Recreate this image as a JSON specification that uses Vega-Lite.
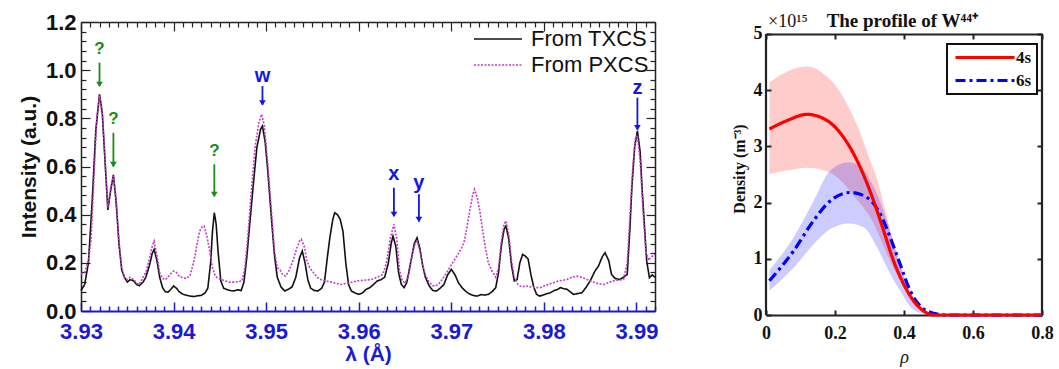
{
"$schema": "https://vega.github.io/schema/vega-lite/v6.json",
"background": "white",
"padding": {"left": 18, "top": 11, "right": 5, "bottom": 2},
"spacing": 72,
"config": {"view": {"stroke": null}, "axis": {"labelFlush": false}},
"resolve": {"scale": {"color": "independent", "strokeDash": "independent"}, "legend": {"color": "independent", "strokeDash": "independent"}},
"datasets": {
"tx": [
{"lam":3.9300,"I":0.085,"series":"From TXCS"},{"lam":3.9304,"I":0.11,"series":"From TXCS"},{"lam":3.9308,"I":0.20,"series":"From TXCS"},{"lam":3.9312,"I":0.45,"series":"From TXCS"},{"lam":3.9316,"I":0.75,"series":"From TXCS"},{"lam":3.9320,"I":0.90,"series":"From TXCS"},{"lam":3.9323,"I":0.82,"series":"From TXCS"},{"lam":3.9326,"I":0.62,"series":"From TXCS"},{"lam":3.9329,"I":0.42,"series":"From TXCS"},{"lam":3.9332,"I":0.50,"series":"From TXCS"},{"lam":3.9335,"I":0.565,"series":"From TXCS"},{"lam":3.9338,"I":0.45,"series":"From TXCS"},{"lam":3.9341,"I":0.28,"series":"From TXCS"},{"lam":3.9344,"I":0.17,"series":"From TXCS"},{"lam":3.9347,"I":0.14,"series":"From TXCS"},{"lam":3.9350,"I":0.12,"series":"From TXCS"},{"lam":3.9353,"I":0.13,"series":"From TXCS"},{"lam":3.9357,"I":0.125,"series":"From TXCS"},{"lam":3.9360,"I":0.11,"series":"From TXCS"},{"lam":3.9363,"I":0.105,"series":"From TXCS"},{"lam":3.9367,"I":0.12,"series":"From TXCS"},{"lam":3.9370,"I":0.14,"series":"From TXCS"},{"lam":3.9374,"I":0.19,"series":"From TXCS"},{"lam":3.9377,"I":0.24,"series":"From TXCS"},{"lam":3.9379,"I":0.256,"series":"From TXCS"},{"lam":3.9382,"I":0.21,"series":"From TXCS"},{"lam":3.9385,"I":0.14,"series":"From TXCS"},{"lam":3.9388,"I":0.098,"series":"From TXCS"},{"lam":3.9391,"I":0.08,"series":"From TXCS"},{"lam":3.9394,"I":0.078,"series":"From TXCS"},{"lam":3.9397,"I":0.09,"series":"From TXCS"},{"lam":3.9400,"I":0.104,"series":"From TXCS"},{"lam":3.9403,"I":0.095,"series":"From TXCS"},{"lam":3.9406,"I":0.08,"series":"From TXCS"},{"lam":3.9410,"I":0.07,"series":"From TXCS"},{"lam":3.9414,"I":0.065,"series":"From TXCS"},{"lam":3.9418,"I":0.062,"series":"From TXCS"},{"lam":3.9422,"I":0.06,"series":"From TXCS"},{"lam":3.9426,"I":0.063,"series":"From TXCS"},{"lam":3.9430,"I":0.065,"series":"From TXCS"},{"lam":3.9434,"I":0.075,"series":"From TXCS"},{"lam":3.9437,"I":0.095,"series":"From TXCS"},{"lam":3.9440,"I":0.20,"series":"From TXCS"},{"lam":3.9442,"I":0.33,"series":"From TXCS"},{"lam":3.9444,"I":0.408,"series":"From TXCS"},{"lam":3.9446,"I":0.36,"series":"From TXCS"},{"lam":3.9448,"I":0.25,"series":"From TXCS"},{"lam":3.9451,"I":0.125,"series":"From TXCS"},{"lam":3.9454,"I":0.095,"series":"From TXCS"},{"lam":3.9457,"I":0.09,"series":"From TXCS"},{"lam":3.9461,"I":0.085,"series":"From TXCS"},{"lam":3.9465,"I":0.083,"series":"From TXCS"},{"lam":3.9469,"I":0.088,"series":"From TXCS"},{"lam":3.9473,"I":0.085,"series":"From TXCS"},{"lam":3.9476,"I":0.12,"series":"From TXCS"},{"lam":3.9479,"I":0.22,"series":"From TXCS"},{"lam":3.9482,"I":0.35,"series":"From TXCS"},{"lam":3.9486,"I":0.52,"series":"From TXCS"},{"lam":3.9490,"I":0.68,"series":"From TXCS"},{"lam":3.9494,"I":0.755,"series":"From TXCS"},{"lam":3.9496,"I":0.768,"series":"From TXCS"},{"lam":3.9499,"I":0.70,"series":"From TXCS"},{"lam":3.9502,"I":0.57,"series":"From TXCS"},{"lam":3.9506,"I":0.37,"series":"From TXCS"},{"lam":3.9509,"I":0.23,"series":"From TXCS"},{"lam":3.9512,"I":0.14,"series":"From TXCS"},{"lam":3.9516,"I":0.10,"series":"From TXCS"},{"lam":3.9520,"I":0.083,"series":"From TXCS"},{"lam":3.9524,"I":0.09,"series":"From TXCS"},{"lam":3.9528,"I":0.10,"series":"From TXCS"},{"lam":3.9532,"I":0.14,"series":"From TXCS"},{"lam":3.9536,"I":0.22,"series":"From TXCS"},{"lam":3.9539,"I":0.249,"series":"From TXCS"},{"lam":3.9542,"I":0.20,"series":"From TXCS"},{"lam":3.9545,"I":0.13,"series":"From TXCS"},{"lam":3.9548,"I":0.095,"series":"From TXCS"},{"lam":3.9552,"I":0.085,"series":"From TXCS"},{"lam":3.9556,"I":0.083,"series":"From TXCS"},{"lam":3.9560,"I":0.095,"series":"From TXCS"},{"lam":3.9563,"I":0.12,"series":"From TXCS"},{"lam":3.9566,"I":0.22,"series":"From TXCS"},{"lam":3.9569,"I":0.31,"series":"From TXCS"},{"lam":3.9572,"I":0.38,"series":"From TXCS"},{"lam":3.9574,"I":0.408,"series":"From TXCS"},{"lam":3.9577,"I":0.40,"series":"From TXCS"},{"lam":3.9580,"I":0.38,"series":"From TXCS"},{"lam":3.9583,"I":0.33,"series":"From TXCS"},{"lam":3.9586,"I":0.20,"series":"From TXCS"},{"lam":3.9589,"I":0.11,"series":"From TXCS"},{"lam":3.9592,"I":0.083,"series":"From TXCS"},{"lam":3.9596,"I":0.075,"series":"From TXCS"},{"lam":3.9600,"I":0.069,"series":"From TXCS"},{"lam":3.9604,"I":0.075,"series":"From TXCS"},{"lam":3.9608,"I":0.09,"series":"From TXCS"},{"lam":3.9612,"I":0.097,"series":"From TXCS"},{"lam":3.9616,"I":0.11,"series":"From TXCS"},{"lam":3.9620,"I":0.125,"series":"From TXCS"},{"lam":3.9624,"I":0.13,"series":"From TXCS"},{"lam":3.9628,"I":0.14,"series":"From TXCS"},{"lam":3.9632,"I":0.20,"series":"From TXCS"},{"lam":3.9635,"I":0.28,"series":"From TXCS"},{"lam":3.9637,"I":0.311,"series":"From TXCS"},{"lam":3.9640,"I":0.27,"series":"From TXCS"},{"lam":3.9643,"I":0.16,"series":"From TXCS"},{"lam":3.9646,"I":0.11,"series":"From TXCS"},{"lam":3.9649,"I":0.097,"series":"From TXCS"},{"lam":3.9652,"I":0.12,"series":"From TXCS"},{"lam":3.9656,"I":0.20,"series":"From TXCS"},{"lam":3.9660,"I":0.28,"series":"From TXCS"},{"lam":3.9663,"I":0.304,"series":"From TXCS"},{"lam":3.9666,"I":0.26,"series":"From TXCS"},{"lam":3.9669,"I":0.19,"series":"From TXCS"},{"lam":3.9672,"I":0.14,"series":"From TXCS"},{"lam":3.9676,"I":0.105,"series":"From TXCS"},{"lam":3.9680,"I":0.085,"series":"From TXCS"},{"lam":3.9684,"I":0.083,"series":"From TXCS"},{"lam":3.9688,"I":0.095,"series":"From TXCS"},{"lam":3.9692,"I":0.11,"series":"From TXCS"},{"lam":3.9696,"I":0.15,"series":"From TXCS"},{"lam":3.9700,"I":0.173,"series":"From TXCS"},{"lam":3.9704,"I":0.15,"series":"From TXCS"},{"lam":3.9708,"I":0.115,"series":"From TXCS"},{"lam":3.9712,"I":0.095,"series":"From TXCS"},{"lam":3.9716,"I":0.08,"series":"From TXCS"},{"lam":3.9720,"I":0.07,"series":"From TXCS"},{"lam":3.9724,"I":0.064,"series":"From TXCS"},{"lam":3.9728,"I":0.062,"series":"From TXCS"},{"lam":3.9732,"I":0.068,"series":"From TXCS"},{"lam":3.9736,"I":0.066,"series":"From TXCS"},{"lam":3.9740,"I":0.069,"series":"From TXCS"},{"lam":3.9744,"I":0.08,"series":"From TXCS"},{"lam":3.9748,"I":0.097,"series":"From TXCS"},{"lam":3.9751,"I":0.16,"series":"From TXCS"},{"lam":3.9754,"I":0.27,"series":"From TXCS"},{"lam":3.9757,"I":0.34,"series":"From TXCS"},{"lam":3.9759,"I":0.353,"series":"From TXCS"},{"lam":3.9762,"I":0.30,"series":"From TXCS"},{"lam":3.9765,"I":0.19,"series":"From TXCS"},{"lam":3.9768,"I":0.125,"series":"From TXCS"},{"lam":3.9771,"I":0.13,"series":"From TXCS"},{"lam":3.9774,"I":0.20,"series":"From TXCS"},{"lam":3.9777,"I":0.235,"series":"From TXCS"},{"lam":3.9780,"I":0.228,"series":"From TXCS"},{"lam":3.9783,"I":0.215,"series":"From TXCS"},{"lam":3.9786,"I":0.15,"series":"From TXCS"},{"lam":3.9789,"I":0.10,"series":"From TXCS"},{"lam":3.9792,"I":0.07,"series":"From TXCS"},{"lam":3.9795,"I":0.062,"series":"From TXCS"},{"lam":3.9799,"I":0.066,"series":"From TXCS"},{"lam":3.9803,"I":0.072,"series":"From TXCS"},{"lam":3.9807,"I":0.076,"series":"From TXCS"},{"lam":3.9811,"I":0.085,"series":"From TXCS"},{"lam":3.9815,"I":0.09,"series":"From TXCS"},{"lam":3.9818,"I":0.097,"series":"From TXCS"},{"lam":3.9822,"I":0.092,"series":"From TXCS"},{"lam":3.9825,"I":0.09,"series":"From TXCS"},{"lam":3.9829,"I":0.078,"series":"From TXCS"},{"lam":3.9832,"I":0.069,"series":"From TXCS"},{"lam":3.9836,"I":0.072,"series":"From TXCS"},{"lam":3.9841,"I":0.076,"series":"From TXCS"},{"lam":3.9845,"I":0.095,"series":"From TXCS"},{"lam":3.9850,"I":0.125,"series":"From TXCS"},{"lam":3.9855,"I":0.165,"series":"From TXCS"},{"lam":3.9859,"I":0.187,"series":"From TXCS"},{"lam":3.9863,"I":0.225,"series":"From TXCS"},{"lam":3.9866,"I":0.242,"series":"From TXCS"},{"lam":3.9870,"I":0.21,"series":"From TXCS"},{"lam":3.9873,"I":0.152,"series":"From TXCS"},{"lam":3.9877,"I":0.135,"series":"From TXCS"},{"lam":3.9882,"I":0.131,"series":"From TXCS"},{"lam":3.9886,"I":0.14,"series":"From TXCS"},{"lam":3.9890,"I":0.152,"series":"From TXCS"},{"lam":3.9893,"I":0.35,"series":"From TXCS"},{"lam":3.9895,"I":0.512,"series":"From TXCS"},{"lam":3.9898,"I":0.68,"series":"From TXCS"},{"lam":3.9901,"I":0.748,"series":"From TXCS"},{"lam":3.9904,"I":0.66,"series":"From TXCS"},{"lam":3.9906,"I":0.512,"series":"From TXCS"},{"lam":3.9909,"I":0.33,"series":"From TXCS"},{"lam":3.9911,"I":0.208,"series":"From TXCS"},{"lam":3.9914,"I":0.138,"series":"From TXCS"},{"lam":3.9917,"I":0.15,"series":"From TXCS"},{"lam":3.9920,"I":0.14,"series":"From TXCS"}
],
"px": [
{"lam":3.9300,"I":0.155,"series":"From PXCS"},{"lam":3.9304,"I":0.16,"series":"From PXCS"},{"lam":3.9308,"I":0.21,"series":"From PXCS"},{"lam":3.9311,"I":0.30,"series":"From PXCS"},{"lam":3.9314,"I":0.55,"series":"From PXCS"},{"lam":3.9317,"I":0.80,"series":"From PXCS"},{"lam":3.9320,"I":0.895,"series":"From PXCS"},{"lam":3.9323,"I":0.83,"series":"From PXCS"},{"lam":3.9326,"I":0.63,"series":"From PXCS"},{"lam":3.9329,"I":0.43,"series":"From PXCS"},{"lam":3.9332,"I":0.51,"series":"From PXCS"},{"lam":3.9335,"I":0.56,"series":"From PXCS"},{"lam":3.9338,"I":0.46,"series":"From PXCS"},{"lam":3.9341,"I":0.29,"series":"From PXCS"},{"lam":3.9344,"I":0.18,"series":"From PXCS"},{"lam":3.9347,"I":0.14,"series":"From PXCS"},{"lam":3.9350,"I":0.13,"series":"From PXCS"},{"lam":3.9353,"I":0.14,"series":"From PXCS"},{"lam":3.9357,"I":0.13,"series":"From PXCS"},{"lam":3.9360,"I":0.115,"series":"From PXCS"},{"lam":3.9363,"I":0.11,"series":"From PXCS"},{"lam":3.9367,"I":0.14,"series":"From PXCS"},{"lam":3.9370,"I":0.16,"series":"From PXCS"},{"lam":3.9374,"I":0.22,"series":"From PXCS"},{"lam":3.9377,"I":0.27,"series":"From PXCS"},{"lam":3.9379,"I":0.29,"series":"From PXCS"},{"lam":3.9382,"I":0.23,"series":"From PXCS"},{"lam":3.9385,"I":0.16,"series":"From PXCS"},{"lam":3.9388,"I":0.135,"series":"From PXCS"},{"lam":3.9391,"I":0.13,"series":"From PXCS"},{"lam":3.9394,"I":0.14,"series":"From PXCS"},{"lam":3.9397,"I":0.155,"series":"From PXCS"},{"lam":3.9400,"I":0.166,"series":"From PXCS"},{"lam":3.9403,"I":0.16,"series":"From PXCS"},{"lam":3.9406,"I":0.145,"series":"From PXCS"},{"lam":3.9410,"I":0.138,"series":"From PXCS"},{"lam":3.9414,"I":0.135,"series":"From PXCS"},{"lam":3.9418,"I":0.15,"series":"From PXCS"},{"lam":3.9422,"I":0.208,"series":"From PXCS"},{"lam":3.9425,"I":0.27,"series":"From PXCS"},{"lam":3.9428,"I":0.33,"series":"From PXCS"},{"lam":3.9431,"I":0.35,"series":"From PXCS"},{"lam":3.9433,"I":0.353,"series":"From PXCS"},{"lam":3.9436,"I":0.31,"series":"From PXCS"},{"lam":3.9439,"I":0.25,"series":"From PXCS"},{"lam":3.9442,"I":0.18,"series":"From PXCS"},{"lam":3.9445,"I":0.145,"series":"From PXCS"},{"lam":3.9448,"I":0.135,"series":"From PXCS"},{"lam":3.9452,"I":0.13,"series":"From PXCS"},{"lam":3.9456,"I":0.125,"series":"From PXCS"},{"lam":3.9460,"I":0.12,"series":"From PXCS"},{"lam":3.9465,"I":0.12,"series":"From PXCS"},{"lam":3.9470,"I":0.122,"series":"From PXCS"},{"lam":3.9474,"I":0.125,"series":"From PXCS"},{"lam":3.9477,"I":0.18,"series":"From PXCS"},{"lam":3.9480,"I":0.30,"series":"From PXCS"},{"lam":3.9484,"I":0.50,"series":"From PXCS"},{"lam":3.9488,"I":0.68,"series":"From PXCS"},{"lam":3.9492,"I":0.78,"series":"From PXCS"},{"lam":3.9495,"I":0.817,"series":"From PXCS"},{"lam":3.9498,"I":0.77,"series":"From PXCS"},{"lam":3.9502,"I":0.60,"series":"From PXCS"},{"lam":3.9506,"I":0.40,"series":"From PXCS"},{"lam":3.9509,"I":0.25,"series":"From PXCS"},{"lam":3.9512,"I":0.18,"series":"From PXCS"},{"lam":3.9515,"I":0.17,"series":"From PXCS"},{"lam":3.9518,"I":0.15,"series":"From PXCS"},{"lam":3.9521,"I":0.145,"series":"From PXCS"},{"lam":3.9525,"I":0.17,"series":"From PXCS"},{"lam":3.9529,"I":0.21,"series":"From PXCS"},{"lam":3.9533,"I":0.26,"series":"From PXCS"},{"lam":3.9536,"I":0.29,"series":"From PXCS"},{"lam":3.9538,"I":0.298,"series":"From PXCS"},{"lam":3.9541,"I":0.27,"series":"From PXCS"},{"lam":3.9544,"I":0.21,"series":"From PXCS"},{"lam":3.9547,"I":0.18,"series":"From PXCS"},{"lam":3.9551,"I":0.16,"series":"From PXCS"},{"lam":3.9555,"I":0.14,"series":"From PXCS"},{"lam":3.9560,"I":0.128,"series":"From PXCS"},{"lam":3.9565,"I":0.125,"series":"From PXCS"},{"lam":3.9570,"I":0.12,"series":"From PXCS"},{"lam":3.9575,"I":0.115,"series":"From PXCS"},{"lam":3.9581,"I":0.11,"series":"From PXCS"},{"lam":3.9587,"I":0.115,"series":"From PXCS"},{"lam":3.9593,"I":0.12,"series":"From PXCS"},{"lam":3.9599,"I":0.125,"series":"From PXCS"},{"lam":3.9606,"I":0.128,"series":"From PXCS"},{"lam":3.9614,"I":0.131,"series":"From PXCS"},{"lam":3.9620,"I":0.14,"series":"From PXCS"},{"lam":3.9626,"I":0.152,"series":"From PXCS"},{"lam":3.9630,"I":0.20,"series":"From PXCS"},{"lam":3.9634,"I":0.30,"series":"From PXCS"},{"lam":3.9638,"I":0.36,"series":"From PXCS"},{"lam":3.9641,"I":0.30,"series":"From PXCS"},{"lam":3.9644,"I":0.17,"series":"From PXCS"},{"lam":3.9647,"I":0.125,"series":"From PXCS"},{"lam":3.9650,"I":0.115,"series":"From PXCS"},{"lam":3.9654,"I":0.15,"series":"From PXCS"},{"lam":3.9658,"I":0.24,"series":"From PXCS"},{"lam":3.9661,"I":0.28,"series":"From PXCS"},{"lam":3.9663,"I":0.29,"series":"From PXCS"},{"lam":3.9666,"I":0.25,"series":"From PXCS"},{"lam":3.9669,"I":0.19,"series":"From PXCS"},{"lam":3.9672,"I":0.15,"series":"From PXCS"},{"lam":3.9676,"I":0.12,"series":"From PXCS"},{"lam":3.9680,"I":0.105,"series":"From PXCS"},{"lam":3.9683,"I":0.104,"series":"From PXCS"},{"lam":3.9687,"I":0.115,"series":"From PXCS"},{"lam":3.9691,"I":0.135,"series":"From PXCS"},{"lam":3.9695,"I":0.16,"series":"From PXCS"},{"lam":3.9699,"I":0.185,"series":"From PXCS"},{"lam":3.9703,"I":0.21,"series":"From PXCS"},{"lam":3.9707,"I":0.235,"series":"From PXCS"},{"lam":3.9711,"I":0.26,"series":"From PXCS"},{"lam":3.9714,"I":0.29,"series":"From PXCS"},{"lam":3.9717,"I":0.35,"series":"From PXCS"},{"lam":3.9720,"I":0.42,"series":"From PXCS"},{"lam":3.9723,"I":0.48,"series":"From PXCS"},{"lam":3.9725,"I":0.505,"series":"From PXCS"},{"lam":3.9728,"I":0.47,"series":"From PXCS"},{"lam":3.9731,"I":0.41,"series":"From PXCS"},{"lam":3.9734,"I":0.33,"series":"From PXCS"},{"lam":3.9737,"I":0.26,"series":"From PXCS"},{"lam":3.9740,"I":0.20,"series":"From PXCS"},{"lam":3.9744,"I":0.166,"series":"From PXCS"},{"lam":3.9748,"I":0.14,"series":"From PXCS"},{"lam":3.9751,"I":0.18,"series":"From PXCS"},{"lam":3.9754,"I":0.29,"series":"From PXCS"},{"lam":3.9757,"I":0.36,"series":"From PXCS"},{"lam":3.9759,"I":0.374,"series":"From PXCS"},{"lam":3.9762,"I":0.32,"series":"From PXCS"},{"lam":3.9765,"I":0.21,"series":"From PXCS"},{"lam":3.9768,"I":0.14,"series":"From PXCS"},{"lam":3.9772,"I":0.11,"series":"From PXCS"},{"lam":3.9776,"I":0.10,"series":"From PXCS"},{"lam":3.9781,"I":0.104,"series":"From PXCS"},{"lam":3.9786,"I":0.10,"series":"From PXCS"},{"lam":3.9791,"I":0.097,"series":"From PXCS"},{"lam":3.9796,"I":0.097,"series":"From PXCS"},{"lam":3.9801,"I":0.105,"series":"From PXCS"},{"lam":3.9806,"I":0.112,"series":"From PXCS"},{"lam":3.9811,"I":0.118,"series":"From PXCS"},{"lam":3.9816,"I":0.125,"series":"From PXCS"},{"lam":3.9821,"I":0.128,"series":"From PXCS"},{"lam":3.9825,"I":0.131,"series":"From PXCS"},{"lam":3.9830,"I":0.14,"series":"From PXCS"},{"lam":3.9835,"I":0.145,"series":"From PXCS"},{"lam":3.9839,"I":0.142,"series":"From PXCS"},{"lam":3.9844,"I":0.135,"series":"From PXCS"},{"lam":3.9850,"I":0.125,"series":"From PXCS"},{"lam":3.9855,"I":0.118,"series":"From PXCS"},{"lam":3.9860,"I":0.112,"series":"From PXCS"},{"lam":3.9865,"I":0.11,"series":"From PXCS"},{"lam":3.9870,"I":0.118,"series":"From PXCS"},{"lam":3.9875,"I":0.125,"series":"From PXCS"},{"lam":3.9880,"I":0.128,"series":"From PXCS"},{"lam":3.9886,"I":0.131,"series":"From PXCS"},{"lam":3.9890,"I":0.20,"series":"From PXCS"},{"lam":3.9893,"I":0.40,"series":"From PXCS"},{"lam":3.9896,"I":0.60,"series":"From PXCS"},{"lam":3.9899,"I":0.72,"series":"From PXCS"},{"lam":3.9901,"I":0.73,"series":"From PXCS"},{"lam":3.9904,"I":0.62,"series":"From PXCS"},{"lam":3.9907,"I":0.42,"series":"From PXCS"},{"lam":3.9910,"I":0.25,"series":"From PXCS"},{"lam":3.9913,"I":0.21,"series":"From PXCS"},{"lam":3.9916,"I":0.225,"series":"From PXCS"},{"lam":3.9920,"I":0.235,"series":"From PXCS"}
],
"arrows": [
{"label":"?","lam":3.9320,"yt":1.087,"y1":1.031,"y2":0.935,"tip":0.93,"col":"#1a8a1a","fs":17},
{"label":"?","lam":3.9335,"yt":0.796,"y1":0.74,"y2":0.60,"tip":0.597,"col":"#1a8a1a","fs":17},
{"label":"?","lam":3.9444,"yt":0.664,"y1":0.609,"y2":0.476,"tip":0.473,"col":"#1a8a1a","fs":17},
{"label":"w","lam":3.9496,"yt":0.976,"y1":0.934,"y2":0.856,"tip":0.853,"col":"#1414e6","fs":20},
{"label":"x","lam":3.9638,"yt":0.568,"y1":0.512,"y2":0.393,"tip":0.39,"col":"#1414e6","fs":20},
{"label":"y","lam":3.9665,"yt":0.533,"y1":0.485,"y2":0.372,"tip":0.369,"col":"#1414e6","fs":20},
{"label":"z","lam":3.9901,"yt":0.927,"y1":0.886,"y2":0.753,"tip":0.75,"col":"#1414e6","fs":20}
],
"bands": [
{"rho":0.01,"lo":2.51,"hi":4.14,"run":"4s"},{"rho":0.06,"lo":2.57,"hi":4.33,"run":"4s"},{"rho":0.12,"lo":2.62,"hi":4.42,"run":"4s"},{"rho":0.18,"lo":2.55,"hi":4.22,"run":"4s"},{"rho":0.206,"lo":2.45,"hi":4.05,"run":"4s"},{"rho":0.235,"lo":2.27,"hi":3.75,"run":"4s"},{"rho":0.254,"lo":2.12,"hi":3.52,"run":"4s"},{"rho":0.283,"lo":1.91,"hi":3.08,"run":"4s"},{"rho":0.302,"lo":1.74,"hi":2.75,"run":"4s"},{"rho":0.322,"lo":1.50,"hi":2.42,"run":"4s"},{"rho":0.336,"lo":1.30,"hi":2.10,"run":"4s"},{"rho":0.36,"lo":0.96,"hi":1.50,"run":"4s"},{"rho":0.389,"lo":0.61,"hi":0.86,"run":"4s"},{"rho":0.418,"lo":0.28,"hi":0.37,"run":"4s"},{"rho":0.44,"lo":0.12,"hi":0.17,"run":"4s"},{"rho":0.457,"lo":0.05,"hi":0.07,"run":"4s"},{"rho":0.486,"lo":0,"hi":0,"run":"4s"},{"rho":0.8,"lo":0,"hi":0,"run":"4s"},
{"rho":0.01,"lo":0.43,"hi":0.80,"run":"6s"},{"rho":0.08,"lo":0.84,"hi":1.38,"run":"6s"},{"rho":0.138,"lo":1.26,"hi":2.03,"run":"6s"},{"rho":0.186,"lo":1.53,"hi":2.57,"run":"6s"},{"rho":0.24,"lo":1.63,"hi":2.72,"run":"6s"},{"rho":0.283,"lo":1.56,"hi":2.57,"run":"6s"},{"rho":0.322,"lo":1.20,"hi":2.15,"run":"6s"},{"rho":0.36,"lo":0.73,"hi":1.50,"run":"6s"},{"rho":0.389,"lo":0.43,"hi":0.90,"run":"6s"},{"rho":0.418,"lo":0.15,"hi":0.43,"run":"6s"},{"rho":0.457,"lo":0.02,"hi":0.10,"run":"6s"},{"rho":0.5,"lo":0,"hi":0.01,"run":"6s"},{"rho":0.52,"lo":0,"hi":0,"run":"6s"},{"rho":0.8,"lo":0,"hi":0,"run":"6s"}
],
"p4": [
{"rho":0.01,"d":3.31,"run":"4s"},{"rho":0.061,"d":3.46,"run":"4s"},{"rho":0.119,"d":3.57,"run":"4s"},{"rho":0.177,"d":3.46,"run":"4s"},{"rho":0.225,"d":3.16,"run":"4s"},{"rho":0.273,"d":2.63,"run":"4s"},{"rho":0.312,"d":2.03,"run":"4s"},{"rho":0.341,"d":1.50,"run":"4s"},{"rho":0.37,"d":0.96,"run":"4s"},{"rho":0.399,"d":0.55,"run":"4s"},{"rho":0.428,"d":0.25,"run":"4s"},{"rho":0.457,"d":0.07,"run":"4s"},{"rho":0.486,"d":0,"run":"4s"},{"rho":0.8,"d":0,"run":"4s"}
],
"p6": [
{"rho":0.01,"d":0.61,"run":"6s"},{"rho":0.08,"d":1.14,"run":"6s"},{"rho":0.138,"d":1.68,"run":"6s"},{"rho":0.186,"d":2.03,"run":"6s"},{"rho":0.244,"d":2.18,"run":"6s"},{"rho":0.293,"d":2.09,"run":"6s"},{"rho":0.331,"d":1.80,"run":"6s"},{"rho":0.36,"d":1.38,"run":"6s"},{"rho":0.389,"d":0.90,"run":"6s"},{"rho":0.418,"d":0.43,"run":"6s"},{"rho":0.447,"d":0.16,"run":"6s"},{"rho":0.486,"d":0.03,"run":"6s"},{"rho":0.52,"d":0,"run":"6s"},{"rho":0.8,"d":0,"run":"6s"}
],
"frame": [{"rho":0,"d0":0,"d1":5},{"rho":0.8,"d0":0,"d1":5}],
"exp": [{"rho":0,"d":5,"t":"×10¹⁵"}],
"ttl": [{"rho":0.395,"d":5,"t":"The profile of W⁴⁴⁺"}]
},
"hconcat": [
{
"width": 574, "height": 289,
"resolve": {"axis": {"x": "independent", "y": "independent"}},
"layer": [
{
"data": {"name": "tx"},
"mark": {"type": "line", "strokeWidth": 1.6},
"encoding": {
"x": {"field": "lam", "type": "quantitative", "scale": {"domain": [3.93, 3.992], "nice": false, "zero": false},
 "axis": {"orient": "bottom", "title": "λ (Å)", "titleFont": "Liberation Sans", "titleFontSize": 21, "titleFontWeight": "bold", "titleColor": "#1a1ad6", "titlePadding": -3,
  "values": [3.93,3.931,3.932,3.933,3.934,3.935,3.936,3.937,3.938,3.939,3.94,3.941,3.942,3.943,3.944,3.945,3.946,3.947,3.948,3.949,3.95,3.951,3.952,3.953,3.954,3.955,3.956,3.957,3.958,3.959,3.96,3.961,3.962,3.963,3.964,3.965,3.966,3.967,3.968,3.969,3.97,3.971,3.972,3.973,3.974,3.975,3.976,3.977,3.978,3.979,3.98,3.981,3.982,3.983,3.984,3.985,3.986,3.987,3.988,3.989,3.99,3.991,3.992],
  "labelExpr": "abs(datum.value*100-round(datum.value*100))<0.001 ? format(datum.value,'.2f') : ''",
  "labelFont": "Liberation Sans", "labelFontSize": 22, "labelFontWeight": "bold", "labelColor": "#1a1ad6", "labelPadding": 19, "labelOverlap": false, "labelFlush": false,
  "tickColor": "#1a1ad6", "domainColor": "#1a1ad6", "domainWidth": 2, "tickWidth": 1.5,
  "tickSize": {"condition": {"test": "abs(datum.value*100-round(datum.value*100))<0.001", "value": -9}, "value": -5},
  "grid": false}},
"y": {"field": "I", "type": "quantitative", "scale": {"domain": [0, 1.2], "nice": false},
 "axis": {"orient": "left", "title": "Intensity (a.u.)", "titleFont": "Liberation Sans", "titleFontSize": 21, "titleFontWeight": "bold", "titleColor": "#111", "titlePadding": 6,
  "values": [0,0.04,0.08,0.12,0.16,0.2,0.24,0.28,0.32,0.36,0.4,0.44,0.48,0.52,0.56,0.6,0.64,0.68,0.72,0.76,0.8,0.84,0.88,0.92,0.96,1,1.04,1.08,1.12,1.16,1.2],
  "labelExpr": "abs(datum.value*5-round(datum.value*5))<0.001 ? format(datum.value,'.1f') : ''",
  "labelFont": "Liberation Sans", "labelFontSize": 22, "labelFontWeight": "bold", "labelColor": "#111", "labelPadding": 14, "labelOverlap": false, "labelFlush": false,
  "tickColor": "#222", "domainColor": "#222", "domainWidth": 1.5, "tickWidth": 1.2,
  "tickSize": {"condition": {"test": "abs(datum.value*5-round(datum.value*5))<0.001", "value": -9}, "value": -5},
  "grid": false}},
"color": {"field": "series", "type": "nominal", "scale": {"domain": ["From TXCS", "From PXCS"], "range": ["#111111", "#c23cc8"]},
 "legend": {"orient": "top-right", "title": null, "offset": 4, "labelFont": "Liberation Sans", "labelFontSize": 22, "labelColor": "#111", "symbolType": "M-1,0H11", "symbolSize": 64, "symbolStrokeWidth": 1.5, "rowPadding": 4, "labelOffset": 42, "padding": 2}},
"strokeDash": {"field": "series", "type": "nominal", "scale": {"domain": ["From TXCS", "From PXCS"], "range": [[1, 0], [2, 1.5]]},
 "legend": {"orient": "top-right", "title": null, "offset": 4, "labelFont": "Liberation Sans", "labelFontSize": 22, "labelColor": "#111", "symbolType": "M-1,0H11", "symbolSize": 64, "symbolStrokeWidth": 1.5, "rowPadding": 4, "labelOffset": 42, "padding": 2}}
}
},
{
"data": {"name": "px"},
"mark": {"type": "line", "strokeWidth": 1.6},
"encoding": {
"x": {"field": "lam", "type": "quantitative",
 "axis": {"orient": "top", "title": null, "labels": false,
  "values": [3.93,3.931,3.932,3.933,3.934,3.935,3.936,3.937,3.938,3.939,3.94,3.941,3.942,3.943,3.944,3.945,3.946,3.947,3.948,3.949,3.95,3.951,3.952,3.953,3.954,3.955,3.956,3.957,3.958,3.959,3.96,3.961,3.962,3.963,3.964,3.965,3.966,3.967,3.968,3.969,3.97,3.971,3.972,3.973,3.974,3.975,3.976,3.977,3.978,3.979,3.98,3.981,3.982,3.983,3.984,3.985,3.986,3.987,3.988,3.989,3.99,3.991,3.992],
  "tickColor": "#222", "domainColor": "#222", "domainWidth": 1.5, "tickWidth": 1.2,
  "tickSize": {"condition": {"test": "abs(datum.value*100-round(datum.value*100))<0.001", "value": -9}, "value": -5},
  "grid": false}},
"y": {"field": "I", "type": "quantitative",
 "axis": {"orient": "right", "title": null, "labels": false,
  "values": [0,0.04,0.08,0.12,0.16,0.2,0.24,0.28,0.32,0.36,0.4,0.44,0.48,0.52,0.56,0.6,0.64,0.68,0.72,0.76,0.8,0.84,0.88,0.92,0.96,1,1.04,1.08,1.12,1.16,1.2],
  "tickColor": "#222", "domainColor": "#222", "domainWidth": 1.5, "tickWidth": 1.2,
  "tickSize": {"condition": {"test": "abs(datum.value*5-round(datum.value*5))<0.001", "value": -9}, "value": -5},
  "grid": false}},
"color": {"field": "series", "type": "nominal"},
"strokeDash": {"field": "series", "type": "nominal"}
}
},
{
"data": {"name": "arrows"},
"mark": {"type": "rule", "strokeWidth": 1.8},
"encoding": {
"x": {"field": "lam", "type": "quantitative", "axis": null},
"y": {"field": "y1", "type": "quantitative", "axis": null},
"y2": {"field": "y2"},
"color": {"field": "col", "type": "nominal", "scale": null}
}
},
{
"data": {"name": "arrows"},
"mark": {"type": "point", "shape": "M-1,-1.6L1,-1.6L0,0Z", "filled": true, "size": 45, "opacity": 1},
"encoding": {
"x": {"field": "lam", "type": "quantitative", "axis": null},
"y": {"field": "tip", "type": "quantitative", "axis": null},
"color": {"field": "col", "type": "nominal", "scale": null}
}
},
{
"data": {"name": "arrows"},
"mark": {"type": "text", "font": "Liberation Sans", "fontWeight": "bold", "baseline": "middle", "align": "center"},
"encoding": {
"x": {"field": "lam", "type": "quantitative", "axis": null},
"y": {"field": "yt", "type": "quantitative", "axis": null},
"text": {"field": "label"},
"size": {"field": "fs", "type": "quantitative", "scale": null},
"color": {"field": "col", "type": "nominal", "scale": null}
}
}
]
},
{
"width": 276, "height": 293,
"resolve": {"axis": {"x": "independent", "y": "independent"}},
"layer": [
{
"data": {"name": "bands"},
"transform": [{"filter": "datum.run == '4s'"}],
"mark": {"type": "area", "color": "#ff0000", "opacity": 0.2, "interpolate": "monotone"},
"encoding": {
"x": {"field": "rho", "type": "quantitative", "scale": {"domain": [0, 0.8], "nice": false},
 "axis": {"orient": "bottom", "title": "ρ", "titleFont": "Liberation Serif", "titleFontSize": 18, "titleFontStyle": "italic", "titleFontWeight": "normal", "titleColor": "#111", "titlePadding": 6,
  "values": [0, 0.2, 0.4, 0.6, 0.8], "labelExpr": "datum.value == 0 ? '0' : format(datum.value, '.1f')",
  "labelFont": "Liberation Serif", "labelFontSize": 18, "labelFontWeight": "bold", "labelColor": "#111", "labelPadding": 14, "labelFlush": false,
  "tickSize": -5, "tickWidth": 2, "tickColor": "#222", "domainColor": "#222", "domainWidth": 2.2, "grid": false}},
"y": {"field": "hi", "type": "quantitative", "scale": {"domain": [0, 5.2135], "nice": false},
 "axis": {"orient": "left", "title": "Density (m⁻³)", "titleFont": "Liberation Serif", "titleFontSize": 16, "titleFontWeight": "bold", "titleColor": "#111", "titlePadding": 6,
  "values": [0, 1, 2, 3, 4, 5], "labelFont": "Liberation Serif", "labelFontSize": 18, "labelFontWeight": "bold", "labelColor": "#111", "labelPadding": 9, "labelFlush": false,
  "tickSize": -5, "tickWidth": 2, "tickColor": "#222", "domain": false, "grid": false}},
"y2": {"field": "lo"}
}
},
{
"data": {"name": "bands"},
"transform": [{"filter": "datum.run == '6s'"}],
"mark": {"type": "area", "color": "#0000ff", "opacity": 0.2, "interpolate": "monotone"},
"encoding": {
"x": {"field": "rho", "type": "quantitative",
 "axis": {"orient": "top", "offset": -12, "title": null, "labels": false, "values": [0, 0.2, 0.4, 0.6, 0.8], "tickSize": -5, "tickWidth": 2, "tickColor": "#222", "domainColor": "#222", "domainWidth": 2.2, "grid": false}},
"y": {"field": "hi", "type": "quantitative",
 "axis": {"orient": "right", "title": null, "labels": false, "values": [0, 1, 2, 3, 4, 5], "tickSize": -5, "tickWidth": 2, "tickColor": "#222", "domain": false, "grid": false}},
"y2": {"field": "lo"}
}
},
{
"data": {"name": "frame"},
"mark": {"type": "rule", "strokeWidth": 2.2, "color": "#222"},
"encoding": {
"x": {"field": "rho", "type": "quantitative", "axis": null},
"y": {"field": "d0", "type": "quantitative", "axis": null},
"y2": {"field": "d1"}
}
},
{
"data": {"name": "p6"},
"mark": {"type": "line", "strokeWidth": 3.2, "interpolate": "monotone"},
"encoding": {
"x": {"field": "rho", "type": "quantitative", "axis": null},
"y": {"field": "d", "type": "quantitative", "axis": null},
"color": {"field": "run", "type": "nominal", "scale": {"domain": ["4s", "6s"], "range": ["#ff0000", "#0000ff"]},
 "legend": {"orient": "none", "legendX": 181, "legendY": 22, "title": null, "labelFont": "Liberation Serif", "labelFontSize": 17, "labelFontWeight": "bold", "labelColor": "#111", "symbolType": "M-1,0H10.8", "symbolSize": 100, "symbolStrokeWidth": 3.2, "strokeColor": "#111", "padding": 5, "rowPadding": 5, "labelOffset": 47, "fillColor": "white",
  "encode": {"legend": {"update": {"strokeWidth": {"value": 2}}}}}},
"strokeDash": {"field": "run", "type": "nominal", "scale": {"domain": ["4s", "6s"], "range": [[1, 0], [10, 4, 3, 4]]},
 "legend": {"orient": "none", "legendX": 181, "legendY": 22, "title": null, "labelFont": "Liberation Serif", "labelFontSize": 17, "labelFontWeight": "bold", "labelColor": "#111", "symbolType": "M-1,0H10.8", "symbolSize": 100, "symbolStrokeWidth": 3.2, "strokeColor": "#111", "padding": 5, "rowPadding": 5, "labelOffset": 47, "fillColor": "white",
  "encode": {"legend": {"update": {"strokeWidth": {"value": 2}}}}}}
}
},
{
"data": {"name": "p4"},
"mark": {"type": "line", "strokeWidth": 3.2, "interpolate": "monotone"},
"encoding": {
"x": {"field": "rho", "type": "quantitative", "axis": null},
"y": {"field": "d", "type": "quantitative", "axis": null},
"color": {"field": "run", "type": "nominal"},
"strokeDash": {"field": "run", "type": "nominal"}
}
},
{
"data": {"name": "exp"},
"mark": {"type": "text", "font": "Liberation Serif", "fontSize": 18, "align": "left", "baseline": "bottom", "dx": 2, "dy": -3, "color": "#111"},
"encoding": {
"x": {"field": "rho", "type": "quantitative", "axis": null},
"y": {"field": "d", "type": "quantitative", "axis": null},
"text": {"field": "t"}
}
},
{
"data": {"name": "ttl"},
"mark": {"type": "text", "font": "Liberation Serif", "fontSize": 19, "fontWeight": "bold", "align": "center", "baseline": "bottom", "dy": -3, "color": "#111"},
"encoding": {
"x": {"field": "rho", "type": "quantitative", "axis": null},
"y": {"field": "d", "type": "quantitative", "axis": null},
"text": {"field": "t"}
}
}
]
}
]
}
